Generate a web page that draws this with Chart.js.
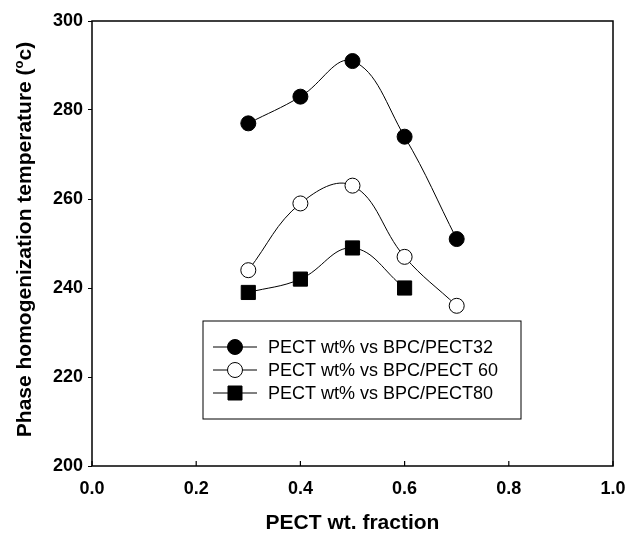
<!DOCTYPE html>
<html>
<head>
<meta charset="utf-8">
<script src="https://cdn.jsdelivr.net/npm/chart.js@4.4.1/dist/chart.umd.min.js"></script>
<style>
    html, body { margin: 0; padding: 0; background: #fff; }
    #wrap { width: 630px; height: 536px; }
</style>
</head>
<body>
<div id="wrap"><canvas id="myChart" width="630" height="536"></canvas></div>
<script>
const fractions = [0.3, 0.4, 0.5, 0.6, 0.7];
const pect32 = [277, 283, 291, 274, 251];
const pect60 = [244, 259, 263, 247, 236];
const pect80 = [239, 242, 249, 240];
const seriesNames = ['PECT wt% vs BPC/PECT32', 'PECT wt% vs BPC/PECT 60', 'PECT wt% vs BPC/PECT80'];
const xTicks = [0.0, 0.2, 0.4, 0.6, 0.8, 1.0];
const yTicks = [200, 220, 240, 260, 280, 300];

const fontFamily = '"Liberation Sans", Arial, Helvetica, sans-serif';

function toPoints(values) {
    return values.map((v, i) => ({x: fractions[i], y: v}));
}

// frame around plot + inward ticks on x axis
const framePlugin = {
    id: 'frame',
    afterDatasetsDraw(chart) {
        const ctx = chart.ctx;
        const a = chart.chartArea;
        const xs = chart.scales.x;
        ctx.save();
        ctx.strokeStyle = '#000';
        ctx.lineWidth = 1.5;
        ctx.strokeRect(a.left, a.top, a.right - a.left, a.bottom - a.top);
        ctx.lineWidth = 1.2;
        xTicks.forEach(t => {
            const px = xs.getPixelForValue(t);
            ctx.beginPath();
            ctx.moveTo(px, a.bottom);
            ctx.lineTo(px, a.bottom - 5);
            ctx.stroke();
        });
        ctx.restore();
    }
};

// y title with superscript "o"
const yTitlePlugin = {
    id: 'yTitle',
    afterDraw(chart) {
        const ctx = chart.ctx;
        const a = chart.chartArea;
        const main = 'Phase homogenization temperature (';
        const sup = 'o';
        const tail = 'c)';
        ctx.save();
        ctx.fillStyle = '#000';
        ctx.textBaseline = 'middle';
        const bigFont = 'bold 21px ' + fontFamily;
        const smallFont = 'bold 13px ' + fontFamily;
        ctx.font = bigFont;
        const w1 = ctx.measureText(main).width;
        const w3 = ctx.measureText(tail).width;
        ctx.font = smallFont;
        const w2 = ctx.measureText(sup).width;
        const total = w1 + w2 + w3;
        ctx.translate(25, (a.top + a.bottom) / 2 - 4);
        ctx.rotate(-Math.PI / 2);
        let x = -total / 2;
        ctx.font = bigFont;
        ctx.fillText(main, x, 0);
        x += w1;
        ctx.font = smallFont;
        ctx.fillText(sup, x, -6);
        x += w2;
        ctx.font = bigFont;
        ctx.fillText(tail, x, 0);
        ctx.restore();
    }
};

// legend box inside the plot
const legendBoxPlugin = {
    id: 'legendBox',
    afterDraw(chart) {
        const ctx = chart.ctx;
        const box = {left: 203, top: 321, width: 318, height: 98};
        ctx.save();
        ctx.fillStyle = '#fff';
        ctx.fillRect(box.left, box.top, box.width, box.height);
        ctx.strokeStyle = '#000';
        ctx.lineWidth = 1;
        ctx.strokeRect(box.left, box.top, box.width, box.height);
        ctx.font = '18px ' + fontFamily;
        ctx.textBaseline = 'middle';
        chart.data.datasets.forEach((ds, i) => {
            const y = box.top + 26 + i * 23;
            ctx.strokeStyle = '#000';
            ctx.lineWidth = 1;
            ctx.beginPath();
            ctx.moveTo(box.left + 10, y);
            ctx.lineTo(box.left + 54, y);
            ctx.stroke();
            ctx.fillStyle = ds.pointBackgroundColor;
            ctx.beginPath();
            if (ds.pointStyle === 'rect') {
                ctx.rect(box.left + 25, y - 7, 14, 14);
            } else {
                ctx.arc(box.left + 32, y, 7.5, 0, Math.PI * 2);
            }
            ctx.fill();
            ctx.stroke();
            ctx.fillStyle = '#000';
            ctx.fillText(ds.label, box.left + 65, y + 1);
        });
        ctx.restore();
    }
};

const chart = new Chart(document.getElementById('myChart'), {
    type: 'line',
    data: {
        datasets: [
            {
                label: seriesNames[0],
                data: toPoints(pect32),
                borderColor: '#000',
                borderWidth: 1,
                pointStyle: 'circle',
                pointRadius: 7.5,
                pointBackgroundColor: '#000',
                pointBorderColor: '#000',
                pointBorderWidth: 1,
                tension: 0.4
            },
            {
                label: seriesNames[1],
                data: toPoints(pect60),
                borderColor: '#000',
                borderWidth: 1,
                pointStyle: 'circle',
                pointRadius: 7.5,
                pointBackgroundColor: '#fff',
                pointBorderColor: '#000',
                pointBorderWidth: 1,
                tension: 0.4
            },
            {
                label: seriesNames[2],
                data: toPoints(pect80),
                borderColor: '#000',
                borderWidth: 1,
                pointStyle: 'rect',
                pointRadius: 10,
                pointBackgroundColor: '#000',
                pointBorderColor: '#000',
                pointBorderWidth: 1,
                tension: 0.4
            }
        ]
    },
    options: {
        responsive: false,
        animation: false,
        layout: {
            padding: {left: 0, top: 21, right: 17, bottom: 0}
        },
        plugins: {
            legend: {display: false},
            tooltip: {enabled: false}
        },
        scales: {
            x: {
                type: 'linear',
                min: 0,
                max: 1,
                afterBuildTicks: scale => { scale.ticks = xTicks.map(v => ({value: v})); },
                afterFit: scale => { scale.height = 70; },
                grid: {display: false},
                border: {display: false},
                ticks: {
                    color: '#000',
                    padding: 4,
                    maxRotation: 0,
                    font: {family: fontFamily, size: 18, weight: 'bold'},
                    callback: v => v.toFixed(1)
                },
                title: {
                    display: true,
                    text: 'PECT wt. fraction',
                    color: '#000',
                    padding: {top: 0, bottom: 0},
                    font: {family: fontFamily, size: 21, weight: 'bold'}
                }
            },
            y: {
                min: 200,
                max: 300,
                afterBuildTicks: scale => { scale.ticks = yTicks.map(v => ({value: v})); },
                afterFit: scale => { scale.width = 92; },
                grid: {
                    display: true,
                    drawOnChartArea: false,
                    drawTicks: true,
                    tickLength: 4,
                    color: '#000'
                },
                border: {display: false},
                ticks: {
                    color: '#000',
                    padding: 5,
                    font: {family: fontFamily, size: 18, weight: 'bold'}
                },
                title: {display: false}
            }
        }
    },
    plugins: [framePlugin, yTitlePlugin, legendBoxPlugin]
});
</script>
</body>
</html>
